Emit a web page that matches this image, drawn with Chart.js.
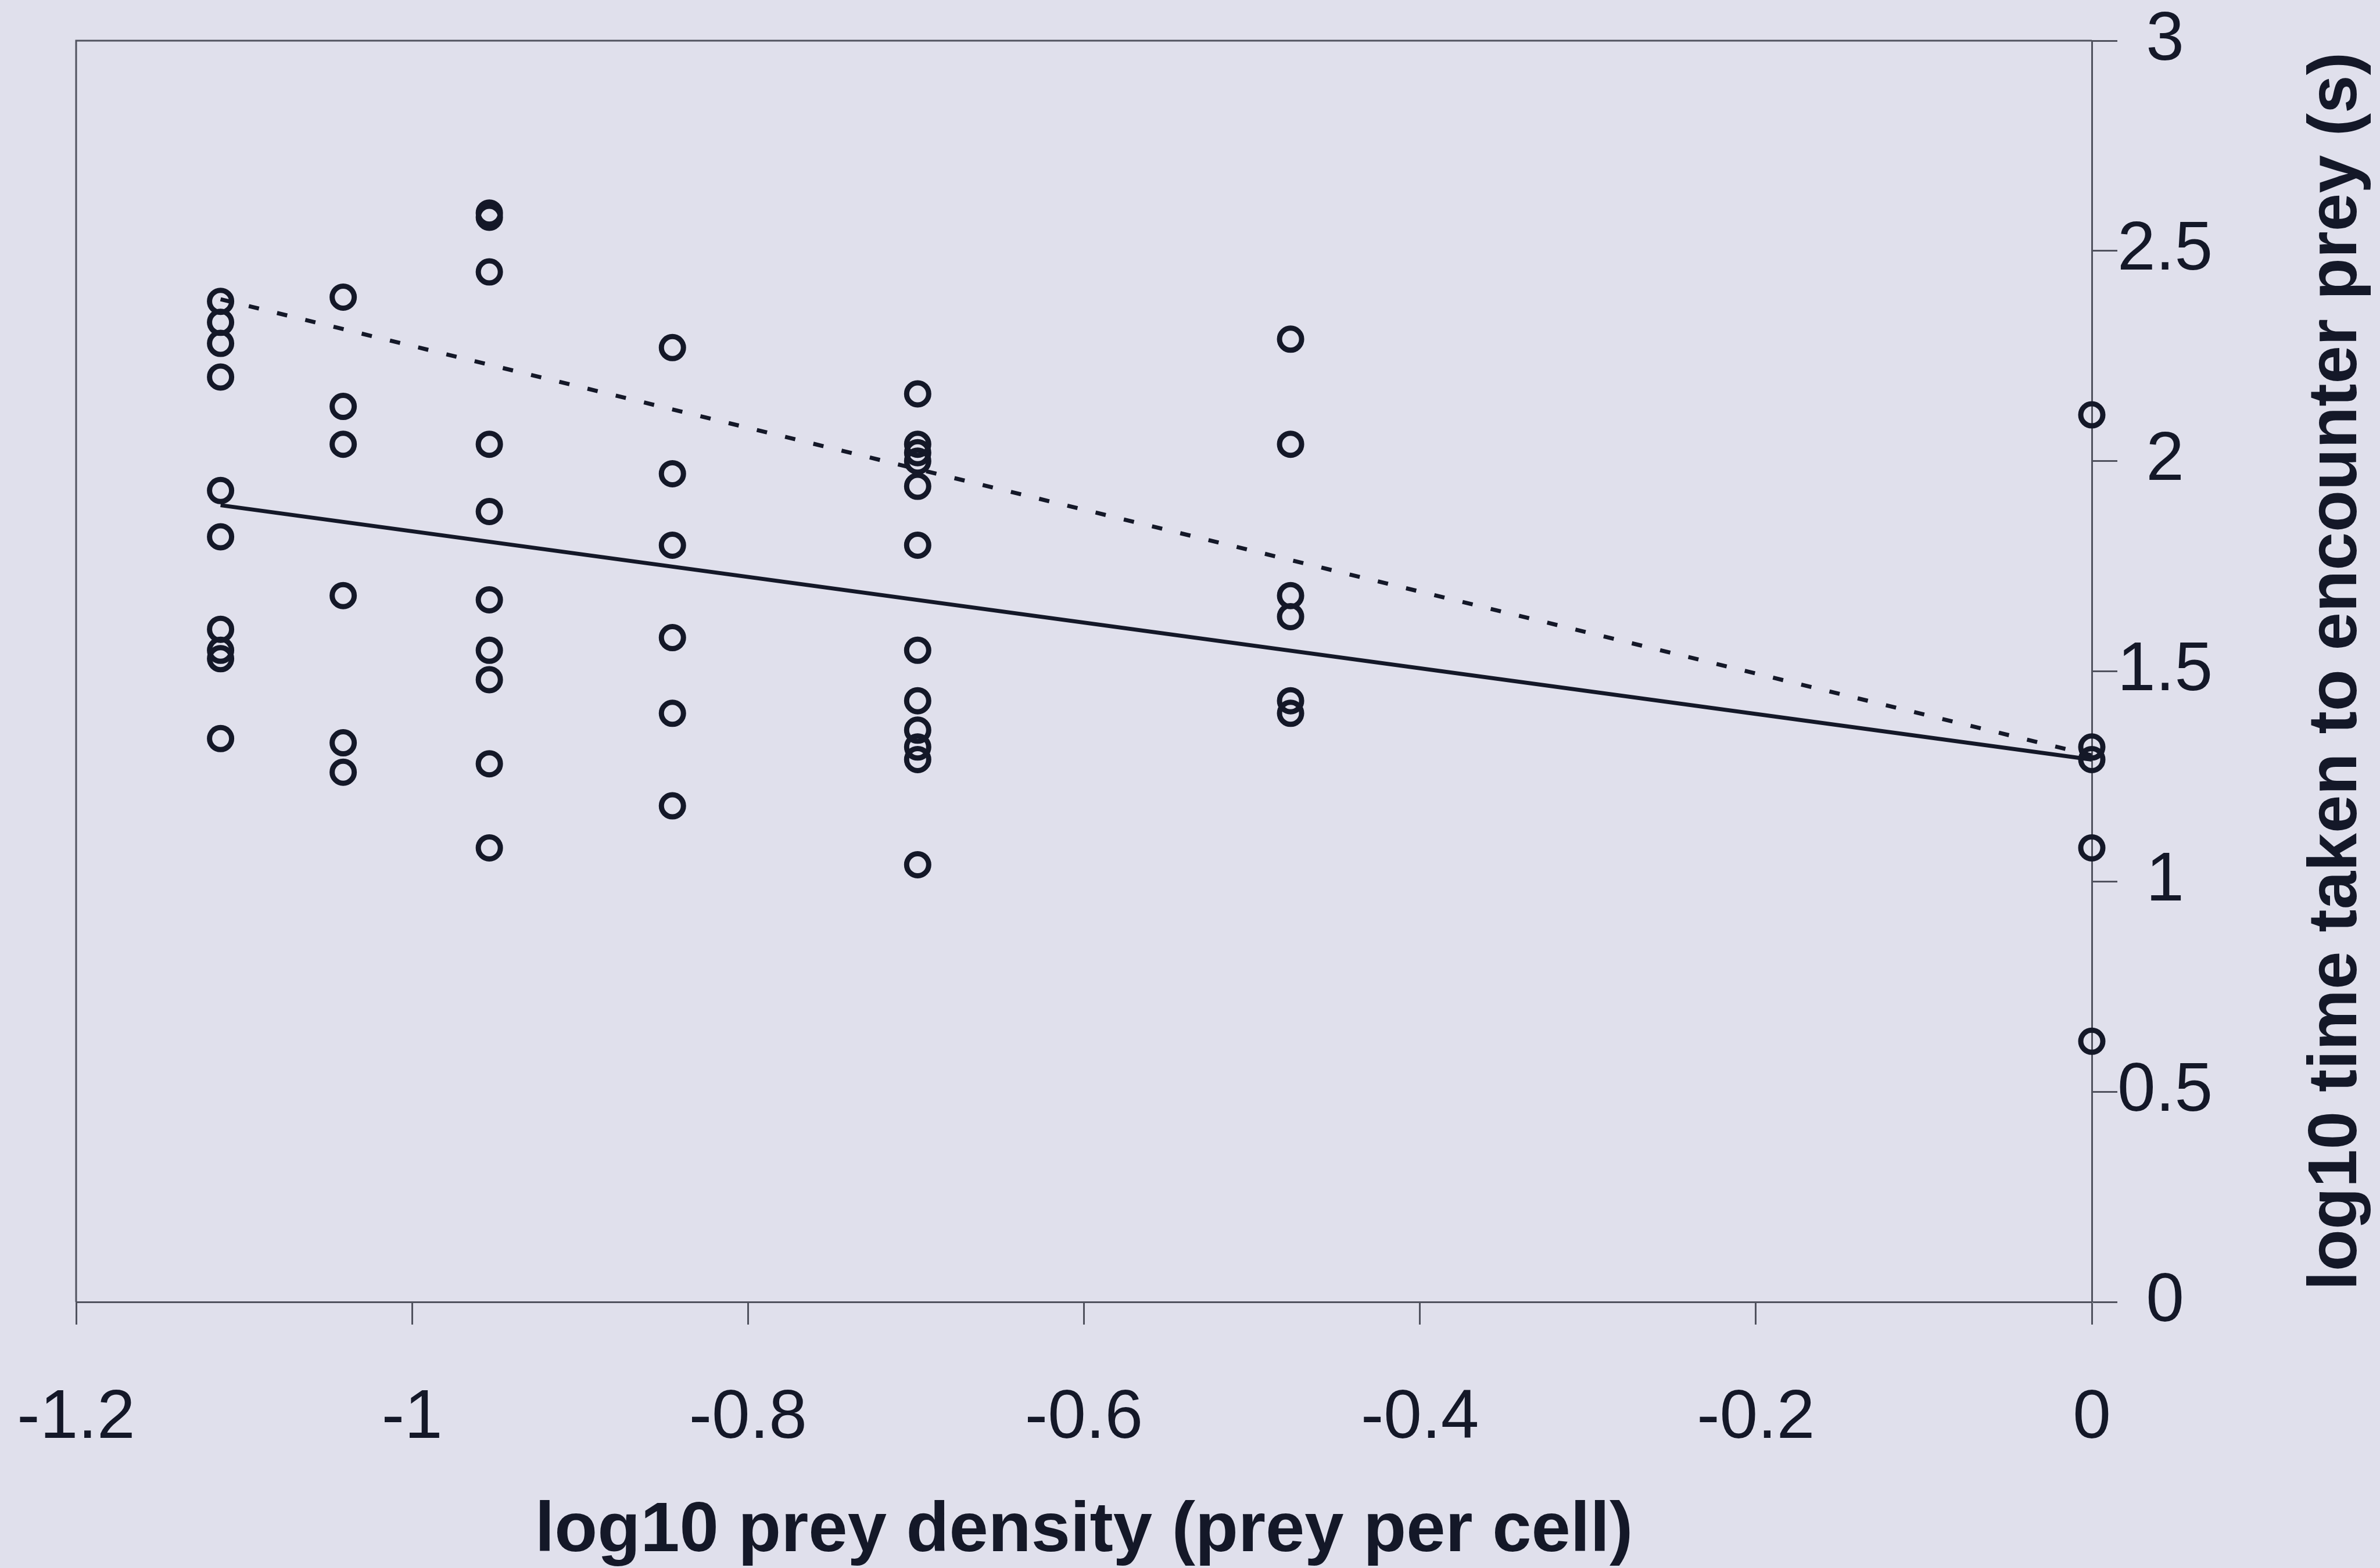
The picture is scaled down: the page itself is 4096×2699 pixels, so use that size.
<!DOCTYPE html>
<html>
<head>
<meta charset="utf-8">
<script src="https://cdn.jsdelivr.net/npm/chart.js@4.4.1/dist/chart.umd.min.js"></script>
<style>
  html, body { margin: 0; padding: 0; background: #e0e0ec; }
  #wrap { width: 4096px; height: 2699px; }
</style>
</head>
<body>
<div id="wrap"><canvas id="grafico"></canvas></div>
<script>
// log10 prey density of each treatment (prey per cell)
const densities = [-1.114, -1.041, -0.954, -0.845, -0.699, -0.477, 0];

// log10 time taken to encounter prey (s), one list per density
const times13 = [2.38, 2.33, 2.28, 2.20, 1.93, 1.82, 1.60, 1.55, 1.53, 1.34];
const times11 = [2.39, 2.13, 2.04, 1.68, 1.33, 1.26];
const times9 = [2.59, 2.58, 2.45, 2.04, 1.88, 1.67, 1.55, 1.48, 1.28, 1.08];
const times7 = [2.27, 1.97, 1.80, 1.58, 1.40, 1.18];
const times5 = [2.16, 2.04, 2.02, 2.00, 1.94, 1.80, 1.55, 1.43, 1.36, 1.32, 1.29, 1.04];
const times3 = [2.29, 2.04, 1.68, 1.63, 1.43, 1.40];
const times1 = [2.11, 1.32, 1.29, 1.08, 0.62];

// fitted lines, ends of the density range
const fitX = [-1.114, 0];
const fitSolid = [1.895, 1.29];
const fitDashed = [2.385, 1.30];

const xTicks = [-1.2, -1, -0.8, -0.6, -0.4, -0.2, 0];
const xLabels = ['-1.2', '-1', '-0.8', '-0.6', '-0.4', '-0.2', '0'];
const yTicks = [0, 0.5, 1, 1.5, 2, 2.5, 3];
const yLabels = ['0', '0.5', '1', '1.5', '2', '2.5', '3'];

const xTitle = 'log10 prey density (prey per cell)';
const yTitle = 'log10 time taken to encounter prey (s)';

const ink = '#141828';
const axisColor = '#50525e';
const fontFamily = '"Liberation Sans", Arial, sans-serif';

const columns = [times13, times11, times9, times7, times5, times3, times1];
const points = [];
columns.forEach((col, i) => {
    col.forEach((t) => points.push({ x: densities[i], y: t }));
});

function linePoints(ys) {
    return fitX.map((x, i) => ({ x: x, y: ys[i] }));
}

// box around the plot and the right-hand axis title
const frame = {
    id: 'frame',
    beforeDatasetsDraw(chart) {
        const { ctx, chartArea: a } = chart;
        ctx.save();
        ctx.strokeStyle = axisColor;
        ctx.lineWidth = 3;
        ctx.beginPath();
        ctx.moveTo(a.left, a.bottom);
        ctx.lineTo(a.left, a.top);
        ctx.lineTo(a.right, a.top);
        ctx.stroke();
        ctx.restore();
    },
    afterDraw(chart) {
        const { ctx, chartArea: a } = chart;
        const y = chart.scales.y;
        ctx.save();
        ctx.translate(y.right - 74, (a.top + a.bottom) / 2);
        ctx.rotate(-Math.PI / 2);
        ctx.font = 'bold 118px ' + fontFamily;
        ctx.fillStyle = ink;
        ctx.textAlign = 'center';
        ctx.textBaseline = 'middle';
        ctx.fillText(yTitle, 0, 0);
        ctx.restore();
    }
};

const ctx = document.getElementById('grafico').getContext('2d');

new Chart(ctx, {
    type: 'scatter',
    data: {
        datasets: [
            {
                label: 'encounter time',
                data: points,
                pointStyle: 'circle',
                pointRadius: 19,
                pointBorderWidth: 9,
                pointBackgroundColor: 'rgba(0,0,0,0)',
                pointBorderColor: ink,
                clip: false
            },
            {
                label: 'fit',
                data: linePoints(fitSolid),
                showLine: true,
                borderColor: ink,
                borderWidth: 7,
                pointRadius: 0
            },
            {
                label: 'fit dashed',
                data: linePoints(fitDashed),
                showLine: true,
                borderColor: ink,
                borderWidth: 7,
                borderDash: [18, 32],
                pointRadius: 0
            }
        ]
    },
    options: {
        responsive: true,
        maintainAspectRatio: false,
        animation: false,
        layout: { padding: { left: 131, top: 70, right: 0, bottom: 0 } },
        plugins: {
            legend: { display: false },
            tooltip: { enabled: false }
        },
        scales: {
            x: {
                type: 'linear',
                position: 'bottom',
                min: -1.2,
                max: 0,
                afterBuildTicks: (s) => { s.ticks = xTicks.map((v) => ({ value: v })); },
                afterFit: (s) => {
                    s.height = 458;
                    s.paddingLeft = 0;
                    s.paddingRight = 0;
                },
                grid: {
                    drawOnChartArea: false,
                    drawTicks: true,
                    tickLength: 39,
                    tickWidth: 3,
                    tickColor: axisColor
                },
                border: { display: true, color: axisColor, width: 3 },
                ticks: {
                    padding: 92,
                    color: ink,
                    font: { family: fontFamily, size: 118 },
                    maxRotation: 0,
                    autoSkip: false,
                    callback: (v) => xLabels[xTicks.indexOf(v)]
                },
                title: {
                    display: true,
                    text: xTitle,
                    color: ink,
                    font: { family: fontFamily, size: 121, weight: 'bold', lineHeight: 1 },
                    padding: { top: 0, bottom: 2 }
                }
            },
            y: {
                type: 'linear',
                position: 'right',
                min: 0,
                max: 3,
                afterBuildTicks: (s) => { s.ticks = yTicks.map((v) => ({ value: v })); },
                afterFit: (s) => {
                    s.width = 496;
                    s.paddingTop = 0;
                    s.paddingBottom = 0;
                },
                grid: {
                    drawOnChartArea: false,
                    drawTicks: true,
                    tickLength: 44,
                    tickWidth: 3,
                    tickColor: axisColor
                },
                border: { display: true, color: axisColor, width: 3 },
                ticks: {
                    padding: 0,
                    crossAlign: 'center',
                    color: ink,
                    font: { family: fontFamily, size: 118 },
                    autoSkip: false,
                    callback: (v) => yLabels[yTicks.indexOf(v)]
                }
            }
        }
    },
    plugins: [frame]
});
</script>
</body>
</html>
